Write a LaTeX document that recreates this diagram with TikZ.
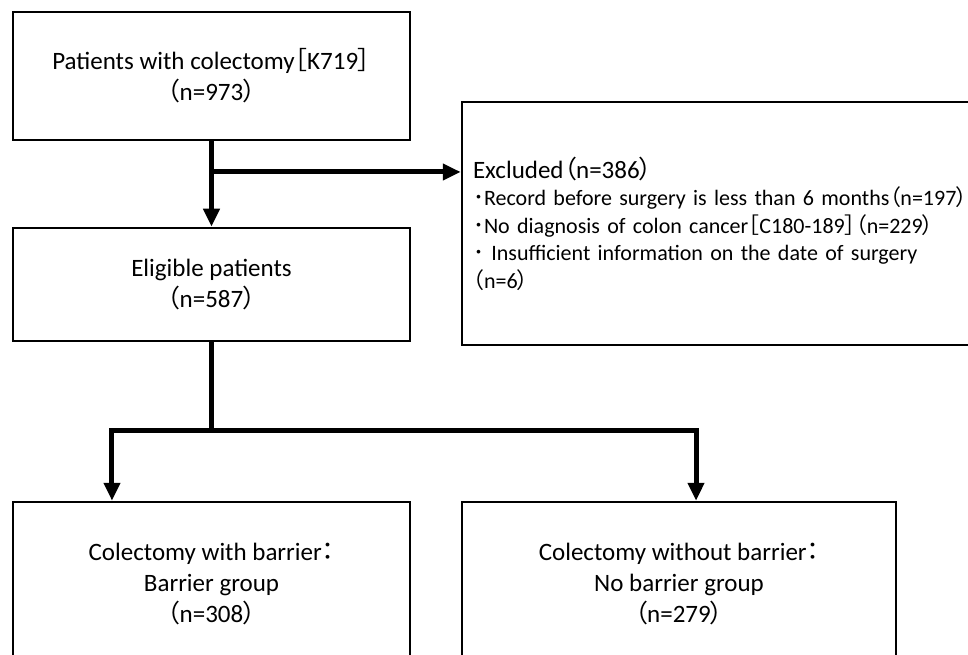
\documentclass[tikz,border=0pt]{standalone}
\usepackage{fontspec}
\setmainfont{Carlito}
\newfontfamily\cjk[RawFeature=+palt]{Noto Sans CJK JP}
\usepackage{tikz}
\usetikzlibrary{positioning,arrows.meta}
\newcommand{\jlp}{{\cjk （}}
\newcommand{\jrp}{{\cjk ）}}
\newcommand{\jlb}{{\cjk ［}}
\newcommand{\jrb}{{\cjk ］}}
\newcommand{\jcolon}{{\cjk ：}}
\newcommand{\jdot}{{\cjk ･}}
\tikzstyle{box}=[draw, line width=2.5pt, minimum width=397pt, align=center, font=\fontsize{25}{31}\selectfont]
\tikzstyle{exbox}=[draw, line width=2.5pt, text width=520pt, inner xsep=11pt, minimum height=243pt, align=left, font=\fontsize{22}{27.5}\selectfont]
\tikzstyle{arr}=[->, line width=5pt]

\begin{document}
\begin{tikzpicture}[node distance=2cm,auto,>={Triangle[width=16pt,length=18pt]}]
\useasboundingbox (-211.5pt,76pt) rectangle (756.5pt,-579pt);
  \node[box, minimum height=128pt] at (0,0) (patients) {Patients with colectomy\jlb K719\jrb\\\jlp n=973\jrp};
  \node[box, minimum height=113pt, below of = patients, node distance = 208.5pt] (eligible) {Eligible patients\\\jlp n=587\jrp};
\draw[arr] (patients) -- (eligible);

\coordinate[below of = patients, node distance = 96pt] (split);
\node[exbox, right of = eligible, node distance = 521.5pt, yshift = 61pt] (excl) {{\fontsize{25}{29}\selectfont Excluded\jlp n=386\jrp}\\
\jdot Record before surgery is less than 6 months\jlp n=197\jrp\\
\jdot No diagnosis of colon cancer\jlb C180-189\jrb\jlp n=229\jrp\\
\jdot\ Insufficient information on the date of surgery\\
\jlp n=6\jrp};
\draw[arr] (split) -- (split -| excl.west);

\node[box, minimum height=164pt, below of = eligible, node distance = 299.5pt] (barrier) {Colectomy with barrier\jcolon\\Barrier group\\\jlp n=308\jrp};
\node[box, minimum width=434pt, minimum height=164pt, right of = barrier, node distance = 467.5pt] (nobarrier) {Colectomy without barrier\jcolon\\No barrier group\\\jlp n=279\jrp};

\coordinate[below of = eligible, node distance = 145.5pt] (fork);
\coordinate[left of = fork, node distance = 99.5pt] (forkl);
\coordinate[right of = fork, node distance = 484.5pt] (forkr);
\draw[arr] (eligible) -- (fork) -- (forkl) -- (forkl |- barrier.north);
\draw[arr] (fork) -- (forkr) -- (forkr |- nobarrier.north);
\end{tikzpicture}
\end{document}
